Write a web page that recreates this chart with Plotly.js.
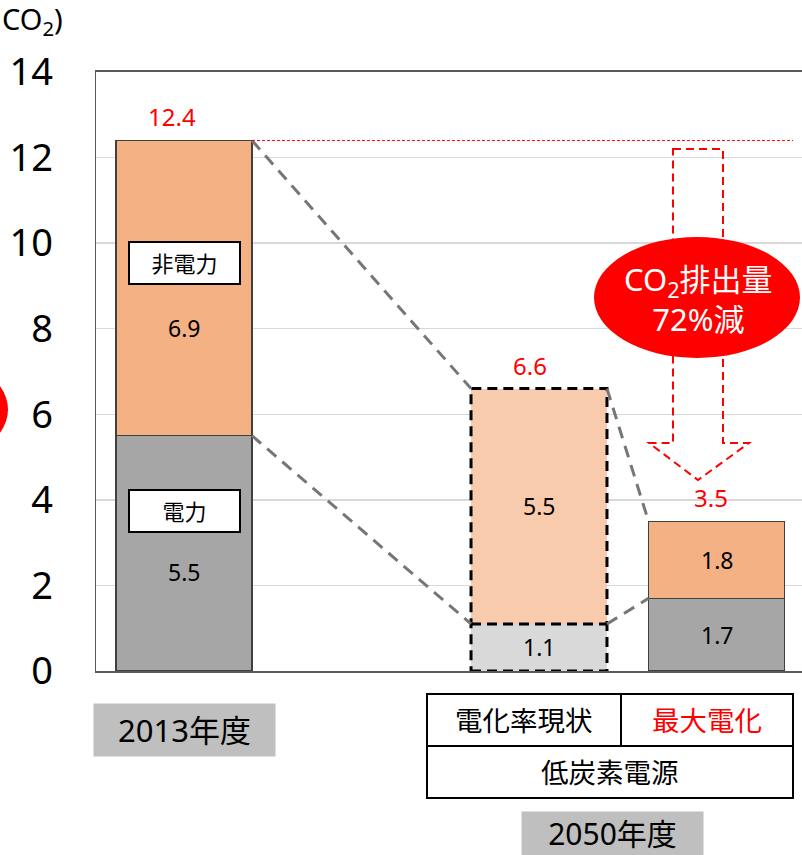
<!DOCTYPE html>
<html>
<head>
<meta charset="utf-8">
<script src="https://cdn.plot.ly/plotly-3.0.1.min.js"></script>
<style>html,body{margin:0;padding:0;background:#fff;}#chart{width:802px;height:855px;}</style>
</head>
<body>
<div id="chart"></div>
<script>
// ---- data ----
const categories = ['2013年度', '2050年度 電化率現状・低炭素電源', '2050年度 最大電化・低炭素電源'];
const powerValues = [5.5, 1.1, 1.7];      // 電力
const nonPowerValues = [6.9, 5.5, 1.8];   // 非電力
const totals = [12.4, 6.6, 3.5];
const yTicks = [0, 2, 4, 6, 8, 10, 12, 14];
const reductionText = ['CO<sub>2</sub>排出量', '72%減'];
const bottomLabels = ['2013年度', '2050年度'];
const tableLabels = ['電化率現状', '最大電化', '低炭素電源'];

// ---- layout helpers ----
const slots = [0, 2, 3];
const barW = 0.766;
const FONT = 'Noto Sans, Noto Sans CJK JP, sans-serif';
const L = 96, T = 72, R = 802, B = 671;
const pxPerX = 177.5, x0px = 184;
const pxPerY = (B - T) / 14;
const dX = px => (px - x0px) / pxPerX;
const dY = py => (B - py) / pxPerY;
const pX = px => (px - L) / (R - L);
const pY = py => (B - py) / (B - T);

const powerColors = ['#A6A6A6', '#D9D9D9', '#A6A6A6'];
const nonPowerColors = ['#F4B183', '#F8CBAD', '#F4B183'];
const lineW = [1.5, 0, 1.5];

const traces = [];
traces.push({
  type: 'bar', x: slots, y: powerValues, width: barW, name: '電力',
  marker: {color: powerColors, line: {color: '#404040', width: lineW}},
  hoverinfo: 'skip'
});
traces.push({
  type: 'bar', x: slots, y: nonPowerValues, width: barW, name: '非電力',
  marker: {color: nonPowerColors, line: {color: '#404040', width: lineW}},
  hoverinfo: 'skip'
});

// dashed outline of the middle bar
const s1 = slots[1];
traces.push({
  type: 'scatter', mode: 'lines',
  x: [s1 - barW/2, s1 + barW/2, s1 + barW/2, s1 - barW/2, s1 - barW/2],
  y: [0, 0, totals[1], totals[1], 0],
  line: {color: '#000', width: 3, dash: '10px,6px'}, hoverinfo: 'skip'
});
traces.push({
  type: 'scatter', mode: 'lines',
  x: [s1 - barW/2, s1 + barW/2], y: [powerValues[1], powerValues[1]],
  line: {color: '#000', width: 3, dash: '10px,6px'}, hoverinfo: 'skip'
});

// connector lines
for (let i = 0; i < 2; i++) {
  const xa = slots[i] + barW/2, xb = slots[i+1] - barW/2;
  traces.push({type: 'scatter', mode: 'lines', x: [xa, xb], y: [totals[i], totals[i+1]],
    line: {color: '#767676', width: 3, dash: '12px,8px'}, hoverinfo: 'skip'});
  traces.push({type: 'scatter', mode: 'lines', x: [xa, xb], y: [powerValues[i], powerValues[i+1]],
    line: {color: '#767676', width: 3, dash: '12px,8px'}, hoverinfo: 'skip'});
}
// red reference line at the 2013 total
traces.push({type: 'scatter', mode: 'lines', x: [slots[0] + barW/2, dX(793)], y: [totals[0], totals[0]],
  line: {color: '#FF0000', width: 1, dash: '3px,2px'}, hoverinfo: 'skip'});

const annotations = [];
const C = {xanchor: 'center', yanchor: 'middle', showarrow: false};
// totals (red)
const totalShift = [-12, -9, -6];
totals.forEach((t, i) => annotations.push({
  x: slots[i], y: t, xref: 'x', yref: 'y', text: String(t), showarrow: false,
  xanchor: 'center', yanchor: 'bottom', yshift: 5, xshift: totalShift[i],
  font: {family: FONT, size: 24, color: '#FF0000'}
}));
// segment values
const powShift = [-19, 0, 0], nonShift = [-40, 0, 0];
slots.forEach((s, i) => {
  annotations.push(Object.assign({x: s, y: powerValues[i] / 2, xref: 'x', yref: 'y', text: String(powerValues[i]),
    yshift: powShift[i], font: {family: FONT, size: 23, color: '#000'}}, C));
  annotations.push(Object.assign({x: s, y: powerValues[i] + nonPowerValues[i] / 2, xref: 'x', yref: 'y',
    text: String(nonPowerValues[i]), yshift: nonShift[i],
    font: {family: FONT, size: 23, color: '#000'}}, C));
});
// label boxes in first bar
annotations.push(Object.assign({x: slots[0], y: dY(263), xref: 'x', yref: 'y', text: '非電力',
  width: 109, height: 40, bgcolor: '#fff', bordercolor: '#000', borderwidth: 2, borderpad: 0,
  font: {family: FONT, size: 22, color: '#000'}}, C));
annotations.push(Object.assign({x: slots[0], y: dY(511), xref: 'x', yref: 'y', text: '電力',
  width: 109, height: 40, bgcolor: '#fff', bordercolor: '#000', borderwidth: 2, borderpad: 0,
  font: {family: FONT, size: 22, color: '#000'}}, C));
// ellipse text
annotations.push(Object.assign({x: dX(698), y: dY(299), xref: 'x', yref: 'y',
  text: reductionText.join('<br>'), font: {family: FONT, size: 31, color: '#fff'}}, C));
// bottom gray boxes
annotations.push(Object.assign({x: pX(184.5), y: pY(730), xref: 'paper', yref: 'paper', text: bottomLabels[0],
  width: 181, height: 52, bgcolor: '#BFBFBF', borderpad: 0,
  font: {family: FONT, size: 31, color: '#000'}}, C));
annotations.push(Object.assign({x: pX(612.5), y: pY(833.5), xref: 'paper', yref: 'paper', text: bottomLabels[1],
  width: 181, height: 43, bgcolor: '#BFBFBF', borderpad: 0,
  font: {family: FONT, size: 30, color: '#000'}}, C));
// table texts
annotations.push(Object.assign({x: pX(524), y: pY(720), xref: 'paper', yref: 'paper', text: tableLabels[0],
  font: {family: FONT, size: 27.5, color: '#000'}}, C));
annotations.push(Object.assign({x: pX(707), y: pY(720), xref: 'paper', yref: 'paper', text: tableLabels[1],
  font: {family: FONT, size: 27.5, color: '#FF0000'}}, C));
annotations.push(Object.assign({x: pX(610), y: pY(772), xref: 'paper', yref: 'paper', text: tableLabels[2],
  font: {family: FONT, size: 27.5, color: '#000'}}, C));
// cut-off unit label
annotations.push({x: pX(0), y: pY(21), xref: 'paper', yref: 'paper', text: 'CO<sub>2</sub>)',
  xanchor: 'left', yanchor: 'middle', showarrow: false, font: {family: FONT, size: 29, color: '#000'}});

const shapes = [];
// dashed hollow arrow
const ap = [[673,149],[723,149],[723,443],[749,443],[698,480],[649,443],[673,443]];
shapes.push({type: 'path', xref: 'x', yref: 'y',
  path: 'M ' + ap.map(p => dX(p[0]) + ',' + dY(p[1])).join(' L ') + ' Z',
  line: {color: '#FF0000', width: 2, dash: '8px,5px'}, fillcolor: 'rgba(0,0,0,0)'});
// red ellipse
shapes.push({type: 'circle', xref: 'x', yref: 'y', x0: dX(594), x1: dX(800), y0: dY(358), y1: dY(237),
  fillcolor: '#FF0000', line: {width: 0}});
// cut-off red ellipse at left edge
shapes.push({type: 'circle', xref: 'paper', yref: 'paper', x0: pX(-198), x1: pX(8), y0: pY(470), y1: pY(349),
  fillcolor: '#FF0000', line: {width: 0}});
// table
shapes.push({type: 'rect', xref: 'paper', yref: 'paper', x0: pX(427), x1: pX(793), y0: pY(798), y1: pY(694),
  line: {color: '#000', width: 2}});
shapes.push({type: 'line', xref: 'paper', yref: 'paper', x0: pX(427), x1: pX(793), y0: pY(746), y1: pY(746),
  line: {color: '#000', width: 2}});
shapes.push({type: 'line', xref: 'paper', yref: 'paper', x0: pX(621), x1: pX(621), y0: pY(746), y1: pY(694),
  line: {color: '#000', width: 2}});

const layout = {
  width: 802, height: 855,
  margin: {l: L, r: 802 - R, t: T, b: 855 - B, pad: 0},
  paper_bgcolor: '#fff', plot_bgcolor: '#fff',
  barmode: 'stack', showlegend: false,
  xaxis: {range: [dX(L), dX(R)], showticklabels: false, showgrid: false, zeroline: false,
    showline: true, mirror: true, linecolor: '#595959', linewidth: 2, ticks: '', fixedrange: true},
  yaxis: {range: [0, 14], tickvals: yTicks, ticktext: yTicks.map(String), showgrid: true,
    gridcolor: '#D9D9D9', gridwidth: 1.5, zeroline: false, showline: true, linecolor: '#595959',
    linewidth: 1.5, ticks: '', ticklabelstandoff: 34,
    tickfont: {family: FONT, size: 38, color: '#000'}, fixedrange: true},
  annotations: annotations, shapes: shapes
};

Plotly.newPlot('chart', traces, layout, {staticPlot: true, displayModeBar: false});
</script>
</body>
</html>
